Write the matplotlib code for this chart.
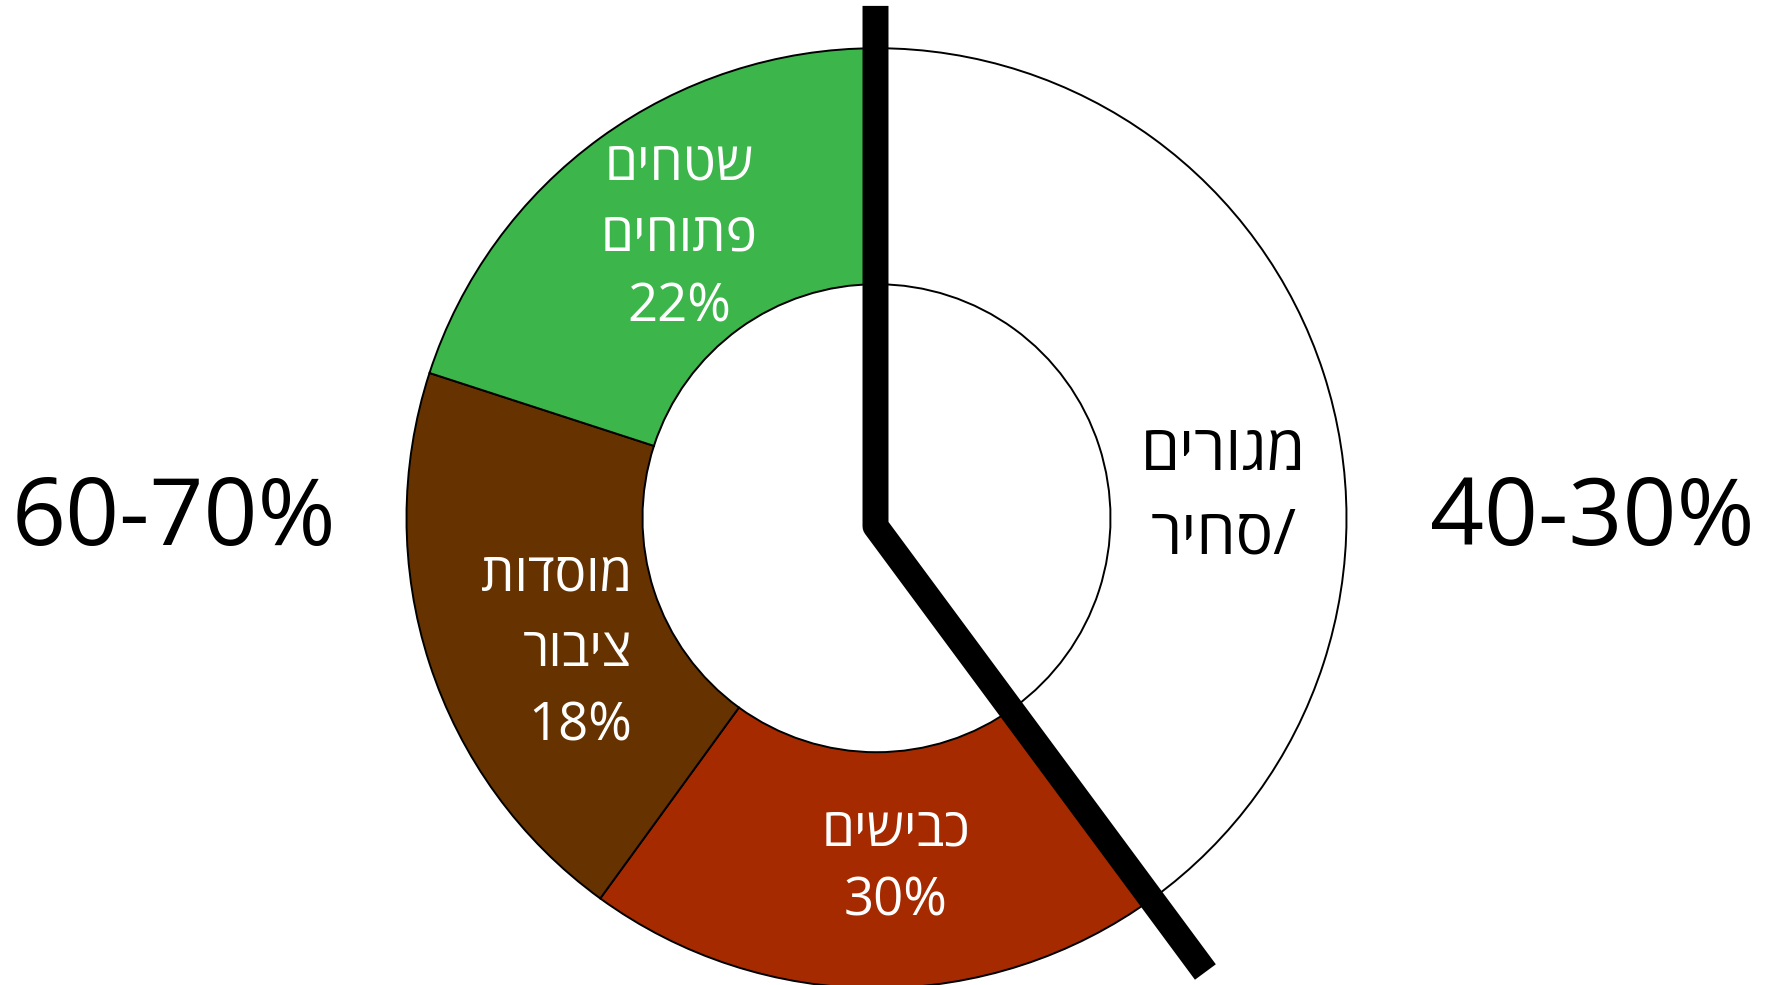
import matplotlib
matplotlib.use("Agg")
import matplotlib.pyplot as plt
import numpy as np

# ---- data ----
categories = ["מגורים/סחיר", "כבישים", "מוסדות ציבור", "שטחים פתוחים"]
shares = [40, 20, 20, 20]                      # drawn wedge sizes (clockwise from top)
colors = ["#FFFFFF", "#A52A00", "#663300", "#3CB54A"]
label_pcts = ["", "30%", "18%", "22%"]         # percentages printed in the labels
side_left = "60-70%"
side_right = "40-30%"

# Hebrew lines in visual (left-to-right) order for rendering
label_lines = [
    ["םירוגמ", "ריחס/"],
    ["םישיבכ", "30%"],
    ["תודסומ", "רוביצ", "18%"],
    ["םיחטש", "םיחותפ", "22%"],
]
label_colors = ["black", "white", "white", "white"]
label_sizes = [45, 38, 38, 38]

# ---- layout ----
W, H = 1774, 985
fig = plt.figure(figsize=(W / 100, H / 100), dpi=100)
ax = fig.add_axes([0, 0, 1, 1])

cx, cy = 876.5, H - 518.2
R = 470
ring = 236

ax.pie(shares, colors=colors, radius=R, center=(cx, cy), startangle=90,
       counterclock=False,
       wedgeprops=dict(width=ring, edgecolor="black", linewidth=1.4))

ax.set_xlim(0, W)
ax.set_ylim(0, H)
ax.set_aspect("equal")
ax.axis("off")

# divider line
top_ext = 1.09 * R
bend_drop = 8
div_angle = 143.5          # degrees clockwise from top
div_len = 1.18 * R
bx, by = cx - 1, cy - bend_drop
ex = bx + div_len * np.sin(np.radians(div_angle))
ey = by + div_len * np.cos(np.radians(div_angle))
ax.plot([cx - 1, bx, ex], [cy + top_ext, by, ey], color="black", lw=18.7,
        solid_joinstyle="round", solid_capstyle="butt", zorder=5)

fam = ["Open Sans", "DejaVu Sans"]

# label placement (x, first baseline in image px, line step, alignment)
label_pos = [
    (1224, 469.5, 84, "center"),
    (896, 845, 71, "center"),
    (632, 590.5, 75, "right"),
    (679, 179, 71.3, "center"),
]
for lines, col, fs, (x, yb, step, ha) in zip(label_lines, label_colors,
                                             label_sizes, label_pos):
    for i, line in enumerate(lines):
        ax.text(x, H - (yb + i * step), line, color=col, fontsize=fs,
                family=fam, ha=ha, va="baseline", zorder=6)

ax.text(173.5, H - 545, side_left, fontsize=68, family=fam, ha="center",
        va="baseline", color="black")
ax.text(1592, H - 545, side_right, fontsize=68, family=fam, ha="center",
        va="baseline", color="black")

fig.savefig("out.png", dpi=100)
